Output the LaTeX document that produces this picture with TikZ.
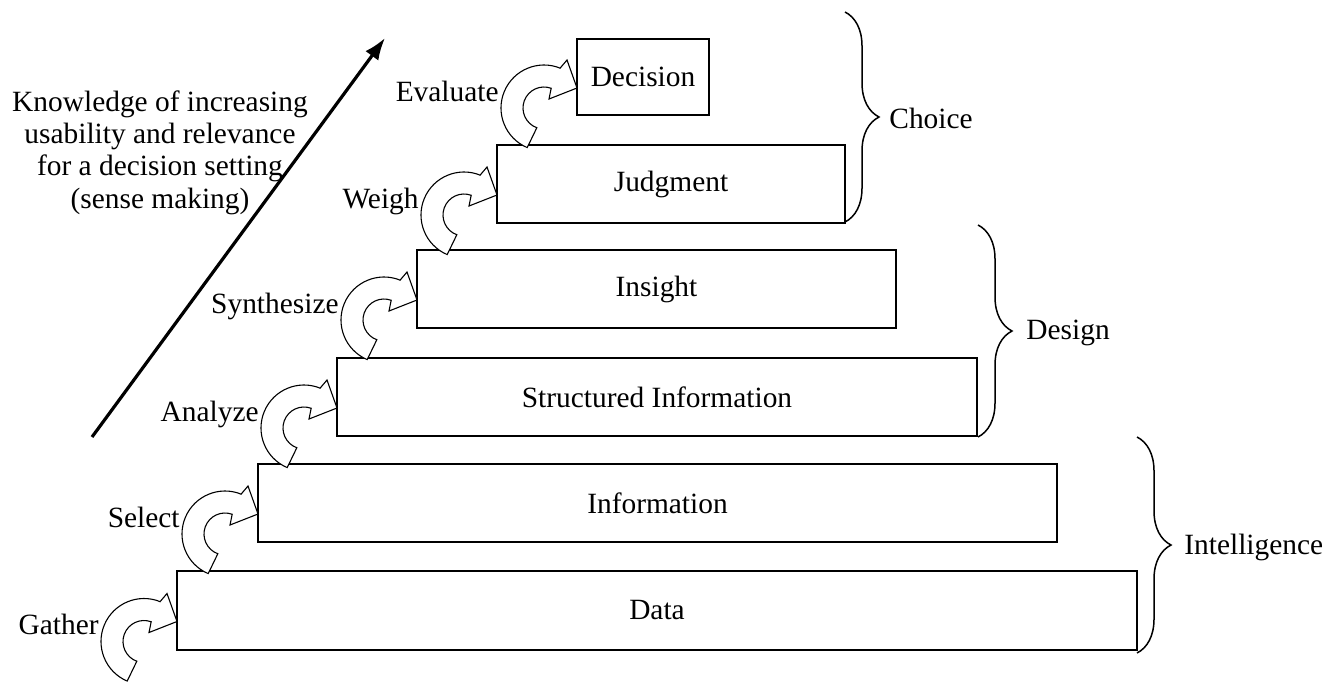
\documentclass[tikz,border=0pt]{standalone}
\usepackage{fontspec}
\setmainfont{Liberation Serif}
\usetikzlibrary{arrows.meta,decorations.pathreplacing}

\tikzset{
  txt/.style={font=\fontsize{14.7}{16.2}\selectfont},
  level/.style={txt, draw, line width=0.75pt, inner sep=0pt, outer sep=0pt},
  turnline/.style={draw=black, line width=0.55pt, fill=white, line join=miter},
  steplabel/.style={txt, inner sep=0pt},
  phase/.style={decorate, decoration={brace, amplitude=17pt}, line width=0.75pt},
  phaselabel/.style={txt, inner sep=0pt, anchor=west},
  knowarrow/.style={line width=1.6pt, -{Latex[length=11pt,width=8pt]}},
  % hollow curved arrow; origin = arrow tip, #1 = step verb
  turn/.pic={
    \path[turnline] (-16.89,19.87) -- (-10,28) -- (0,0) -- (-28,-11) -- (-25.82,-0.27)
      arc[start angle=70, end angle=250, radius=21] -- (-49.80,-59.58)
      arc[start angle=247, end angle=68, radius=43] -- cycle;
    \node[steplabel, anchor=base east] (-lbl) at (-78,-13) {#1};
  }
}

\begin{document}
\begin{tikzpicture}[x=0.5pt, y=0.5pt]
  \useasboundingbox (0,0) rectangle (1326,-681);

  % the six knowledge levels
  \node[level, minimum width=480pt, minimum height=39.5pt] (data)     at (657,-610.5) {Data};
  \node[level, minimum width=399.5pt, minimum height=39pt] (info)     at (657.5,-503) {Information};
  \node[level, minimum width=320pt, minimum height=39pt]   (struct)   at (657,-397)   {Structured Information};
  \node[level, minimum width=239.5pt, minimum height=39pt] (insight)  at (656.5,-289) {Insight};
  \node[level, minimum width=174pt, minimum height=39pt]   (judgment) at (671,-184)   {Judgment};
  \node[level, minimum width=66pt, minimum height=38pt]    (decision) at (643,-77)    {Decision};

  % transformation steps between levels
  \pic (gather) at ([yshift=-5.5pt]data.west)     {turn=Gather};
  \pic (select) at ([yshift=-5.5pt]info.west)     {turn=Select};
  \pic (analyze) at ([yshift=-5.5pt]struct.west)  {turn=Analyze};
  \pic (synth) at ([yshift=-5.5pt]insight.west)   {turn=Synthesize};
  \pic (weigh) at ([yshift=-5.5pt]judgment.west)  {turn=Weigh};
  \pic (eval) at ([yshift=-5.5pt]decision.west)   {turn=Evaluate};

  % knowledge axis
  \coordinate (kstart) at (92,-437);
  \coordinate (kend) at (385,-38);
  \draw[knowarrow] (kstart) -- (kend);
  \node[txt, align=center, inner sep=0pt, anchor=north] (know) at (160,-90)
    {Knowledge of increasing\\usability and relevance\\for a decision setting\\(sense making)};

  % decision phases
  \coordinate (c1) at (845,-12);
  \coordinate (c2) at (845,-222);
  \draw[phase] (c1) -- (c2);
  \node[phaselabel] (choice) at (889,-118) {Choice};

  \coordinate (d1) at (978,-225);
  \coordinate (d2) at (978,-437);
  \draw[phase] (d1) -- (d2);
  \node[phaselabel] (design) at (1026,-333) {Design};

  \coordinate (i1) at (1137,-437);
  \coordinate (i2) at (1137,-653);
  \draw[phase] (i1) -- (i2);
  \node[phaselabel] (intel) at (1184,-547) {Intelligence};
\end{tikzpicture}
\end{document}
